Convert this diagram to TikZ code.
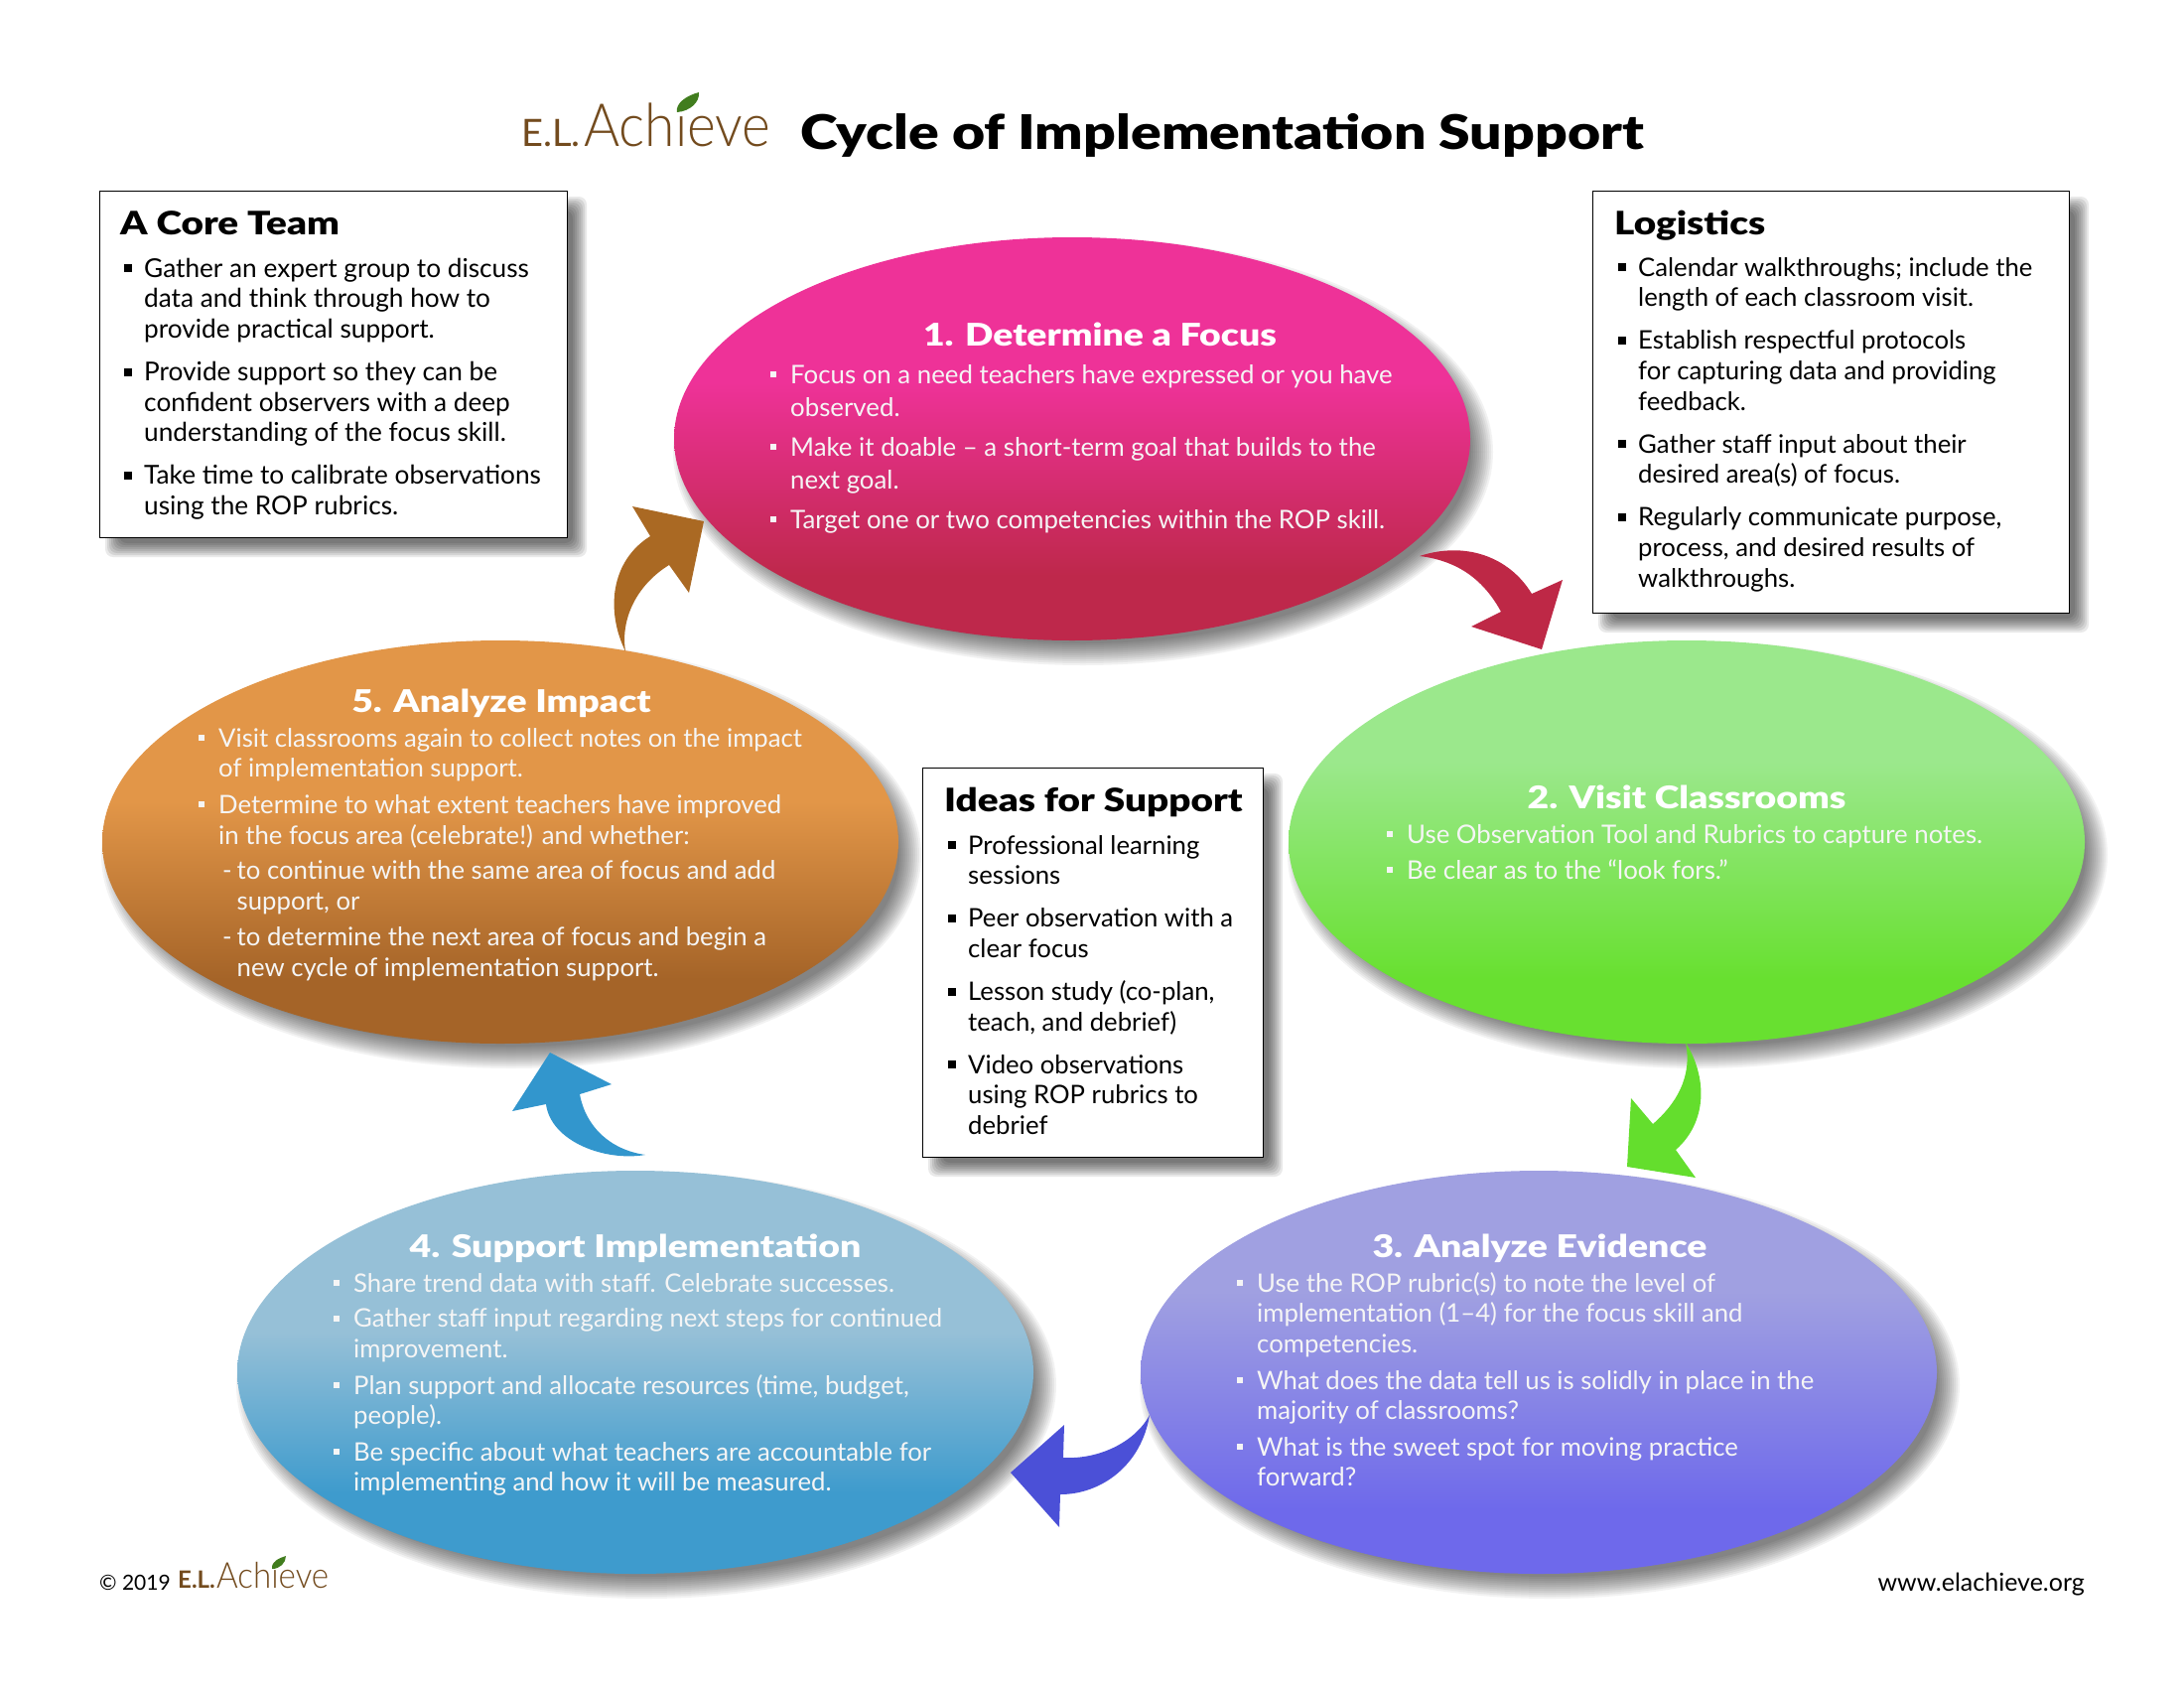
\documentclass[tikz,border=0pt]{standalone}
\usepackage{fontspec}
\setmainfont{Lato}
\newfontfamily\heavyfont{Lato Black}[FakeStretch=1.19]
\newfontfamily\lightfont{Lato Light}[FakeStretch=0.92]
\usetikzlibrary{shapes.geometric}
\definecolor{pinkA}{RGB}{238,50,152}\definecolor{pinkB}{RGB}{190,40,75}
\definecolor{greenA}{RGB}{155,232,140}\definecolor{greenB}{RGB}{104,224,48}
\definecolor{violetA}{RGB}{160,160,225}\definecolor{violetB}{RGB}{110,105,235}
\definecolor{blueA}{RGB}{150,192,215}\definecolor{blueB}{RGB}{62,155,205}
\definecolor{orangeA}{RGB}{226,150,72}\definecolor{orangeB}{RGB}{165,100,40}
\definecolor{arrRed}{RGB}{190,40,70}\definecolor{arrGreen}{RGB}{100,222,45}
\definecolor{arrViolet}{RGB}{75,80,215}\definecolor{arrBlue}{RGB}{50,150,205}
\definecolor{arrBrown}{RGB}{170,105,35}\definecolor{logoBrown}{RGB}{115,75,30}
\definecolor{leafGreen}{RGB}{65,125,30}
\pgfdeclareverticalshading{gradPink}{100bp}{color(0bp)=(pinkB); color(33bp)=(pinkB); color(57bp)=(pinkA); color(100bp)=(pinkA)}
\pgfdeclareverticalshading{gradGreen}{100bp}{color(0bp)=(greenB); color(33bp)=(greenB); color(60bp)=(greenA); color(100bp)=(greenA)}
\pgfdeclareverticalshading{gradViolet}{100bp}{color(0bp)=(violetB); color(33bp)=(violetB); color(60bp)=(violetA); color(100bp)=(violetA)}
\pgfdeclareverticalshading{gradBlue}{100bp}{color(0bp)=(blueB); color(35bp)=(blueB); color(55bp)=(blueA); color(100bp)=(blueA)}
\pgfdeclareverticalshading{gradOrange}{100bp}{color(0bp)=(orangeB); color(33bp)=(orangeB); color(55bp)=(orangeA); color(100bp)=(orangeA)}
\newcommand{\bu}{\makebox[20pt][l]{\rule[5pt]{8pt}{8pt}}}
\newcommand{\ebu}{\makebox[20pt][l]{\rule[6pt]{6pt}{6pt}}}
\newcommand{\ct}{\hspace*{20pt}}
\newcommand{\fs}{\rule{0pt}{24pt}}
\newcommand{\dsh}{\hspace*{24pt}\makebox[14.5pt][l]{-}}
\newcommand{\dct}{\hspace*{38.5pt}}
\newcommand{\ellshadow}[2]{%
  \foreach \k in {0,...,11}{\fill[black,opacity=.05] (#1+11,#2+13) ellipse ({401+12-2*\k} and {203+12-2*\k});}}
\newcommand{\boxshadow}[4]{%
  \foreach \k in {0,...,7}{\fill[black,opacity=.085,rounded corners=8pt] (#1+14-8+2*\k,#2+14-8+2*\k) rectangle (#3+12+8-2*\k,#4+12+8-2*\k);}}
\tikzset{
  ell/.style={ellipse,inner sep=0,minimum width=802,minimum height=406},
  card/.style={draw=black,line width=1pt,fill=white},
  listtext/.style={inner sep=0,align=left,anchor=north west,font=\fontsize{25.7}{30.6}\selectfont},
  corelist/.style={inner sep=0,align=left,anchor=north west,font=\fontsize{26.2}{30.6}\selectfont},
  ellbody/.style={listtext,text=white!92!gray},
  ellone/.style={inner sep=0,align=left,anchor=north west,text=white!92!gray,font=\fontsize{25.8}{33}\selectfont},
  elltwo/.style={inner sep=0,align=left,anchor=north west,text=white!92!gray,font=\fontsize{25.8}{36}\selectfont},
  cardhead/.style={inner sep=0,anchor=base west,yshift=-2pt,font=\heavyfont\fontsize{32.5}{36}\selectfont},
  ellhead/.style={inner sep=0,anchor=base,yshift=-1pt,text=white,font=\heavyfont\fontsize{31.4}{36}\selectfont}
}
\begin{document}
\begin{tikzpicture}[x=1pt,y=-1pt]
\useasboundingbox (0,0) rectangle (2200,1700);
\fill[white] (0,0) rectangle (2200,1700);

% shadows
\ellshadow{1080}{442}\ellshadow{1699}{848}\ellshadow{1550}{1382}\ellshadow{640}{1382}\ellshadow{504}{848}
\boxshadow{100}{192}{571}{541}\boxshadow{1604}{192}{2084}{617}\boxshadow{929}{773}{1272}{1165}

% ellipses
\node[ell,shading=gradPink] (e1) at (1080,442) {};
\node[ell,shading=gradGreen] (e2) at (1699,848) {};
\node[ell,shading=gradViolet] (e3) at (1550,1382) {};
\node[ell,shading=gradBlue] (e4) at (640,1382) {};
\node[ell,shading=gradOrange] (e5) at (504,848) {};

% cards
\node[card,minimum width=471,minimum height=349,inner sep=0] (coreBox) at (335.5,366.5) {};
\node[card,minimum width=480,minimum height=425,inner sep=0] (logBox) at (1844,404.5) {};
\node[card,minimum width=343,minimum height=392,inner sep=0] (ideaBox) at (1100.5,969) {};

% block arrows
\fill[arrRed] (1430,560) .. controls (1475,545) and (1520,560) .. (1543,598) -- (1574,584) -- (1553,654) -- (1482,631) -- (1512,616) .. controls (1495,585) and (1470,565) .. cycle;
\fill[arrGreen] (1698,1050) .. controls (1720,1085) and (1720,1130) .. (1688,1158) -- (1708,1186) -- (1639,1175) -- (1643,1106) -- (1665,1132) .. controls (1688,1112) and (1705,1085) .. cycle;
\fill[arrViolet] (1158,1425) .. controls (1150,1475) and (1110,1505) .. (1068,1505) -- (1067,1538) -- (1018,1483) -- (1072,1435) -- (1071,1468) .. controls (1110,1470) and (1145,1450) .. cycle;
\fill[arrBlue] (650,1163) .. controls (610,1170) and (555,1150) .. (550,1112) -- (516,1119) -- (554,1060) -- (616,1092) -- (584,1102) .. controls (590,1135) and (615,1158) .. cycle;
\fill[arrBrown] (630,656) .. controls (610,615) and (615,565) .. (655,540) -- (637,510) -- (709,525) -- (694,597) -- (674,569) .. controls (640,590) and (625,625) .. cycle;

% header
\node[inner sep=0,anchor=base west,text=logoBrown,font=\fontsize{38}{40}\selectfont] (logoEL) at (525,147) {E.L.};
\node[inner sep=0,anchor=base west,text=logoBrown,font=\lightfont\fontsize{60}{60}\selectfont] (logoAch) at (588,147) {Achieve};
\fill[leafGreen] (682,113) .. controls (680,104) and (692,96) .. (704,93) .. controls (705,103) and (695,112) .. cycle;
\node[inner sep=0,anchor=base west,font=\heavyfont\fontsize{48}{50}\selectfont] (mainTitle) at (806,150) {Cycle of Implementation Support};

% card text
\node[cardhead] (coreHead) at (121,234) {A Core Team};
\node[corelist] (coreList) at (125,255) {\fs\bu Gather an expert group to discuss\\\ct data and think through how to\\\ct provide practical support.\\[12.5pt]
\bu Provide support so they can be\\\ct confident observers with a deep\\\ct understanding of the focus skill.\\[12.5pt]
\bu Take time to calibrate observations\\\ct using the ROP rubrics.};

\node[cardhead] (logHead) at (1626,234) {Logistics};
\node[listtext] (logList) at (1630,254) {\fs\bu Calendar walkthroughs; include the\\\ct length of each classroom visit.\\[12.5pt]
\bu Establish respectful protocols\\\ct for capturing data and providing\\\ct feedback.\\[12.5pt]
\bu Gather staff input about their\\\ct desired area(s) of focus.\\[12.5pt]
\bu Regularly communicate purpose,\\\ct process, and desired results of\\\ct walkthroughs.};

\node[cardhead] (ideaHead) at (951,815) {Ideas for Support};
\node[listtext] (ideaList) at (955,836) {\fs\bu Professional learning\\\ct sessions\\[12.5pt]
\bu Peer observation with a\\\ct clear focus\\[12.5pt]
\bu Lesson study (co-plan,\\\ct teach, and debrief)\\[12.5pt]
\bu Video observations\\\ct using ROP rubrics to\\\ct debrief};

% ellipse text
\node[ellhead] (e1Head) at (1108,347) {1. Determine a Focus};
\node[ellone] (e1List) at (776,362) {\fs\ebu Focus on a need teachers have expressed or you have\\\ct observed.\\[7pt]
\ebu Make it doable – a short-term goal that builds to the\\\ct next goal.\\[7pt]
\ebu Target one or two competencies within the ROP skill.};

\node[ellhead] (e2Head) at (1699,813) {2. Visit Classrooms};
\node[elltwo] (e2List) at (1397,825) {\fs\ebu Use Observation Tool and Rubrics to capture notes.\\
\ebu Be clear as to the “look fors.”};

\node[ellhead] (e3Head) at (1551,1265) {3. Analyze Evidence};
\node[ellbody] (e3List) at (1246,1277) {\fs\ebu Use the ROP rubric(s) to note the level of\\\ct implementation (1–4) for the focus skill and\\\ct competencies.\\[6pt]
\ebu What does the data tell us is solidly in place in the\\\ct majority of classrooms?\\[6pt]
\ebu What is the sweet spot for moving practice\\\ct forward?};

\node[ellhead] (e4Head) at (640,1265) {4. Support Implementation};
\node[ellbody] (e4List) at (336,1277) {\fs\ebu Share trend data with staff. Celebrate successes.\\[5pt]
\ebu Gather staff input regarding next steps for continued\\\ct improvement.\\[6pt]
\ebu Plan support and allocate resources (time, budget,\\\ct people).\\[6pt]
\ebu Be specific about what teachers are accountable for\\\ct implementing and how it will be measured.};

\node[ellhead] (e5Head) at (505,716) {5. Analyze Impact};
\node[ellbody] (e5List) at (200,728) {\fs\ebu Visit classrooms again to collect notes on the impact\\\ct of implementation support.\\[6pt]
\ebu Determine to what extent teachers have improved\\\ct in the focus area (celebrate!) and whether:\\[5pt]
\dsh to continue with the same area of focus and add\\\dct support, or\\[6pt]
\dsh to determine the next area of focus and begin a\\\dct new cycle of implementation support.};

% footer
\node[inner sep=0,anchor=base west,font=\fontsize{21}{24}\selectfont] (copy) at (100,1601) {© 2019};
\node[inner sep=0,anchor=base west,text=logoBrown,font=\fontsize{24}{26}\selectfont\bfseries] (footEL) at (179,1599) {E.L.};
\node[inner sep=0,anchor=base west,text=logoBrown,font=\lightfont\fontsize{36}{38}\selectfont] (footAch) at (218,1599) {Achieve};
\fill[leafGreen] (274,1580) .. controls (273,1573) and (281,1569) .. (288,1567) .. controls (288,1574) and (282,1580) .. cycle;
\node[inner sep=0,anchor=base east,font=\fontsize{25}{28}\selectfont] (web) at (2100,1602) {www.elachieve.org};
\end{tikzpicture}
\end{document}
